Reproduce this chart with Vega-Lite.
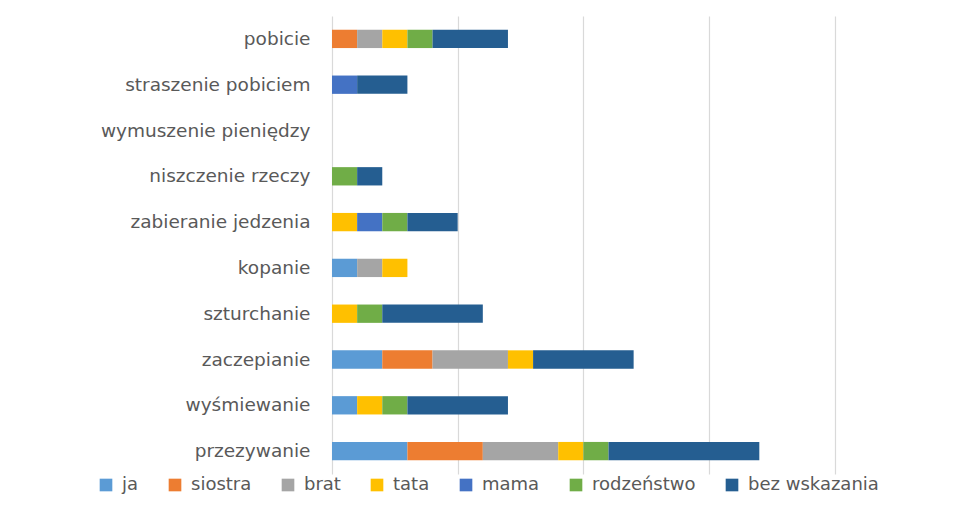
{
  "$schema": "https://vega.github.io/schema/vega-lite/v6.json",
  "autosize": "none",
  "width": 646,
  "height": 458,
  "padding": {"left": 332, "top": 16, "right": 0, "bottom": 34},
  "background": "white",
  "config": {
    "view": {"stroke": null},
    "font": "DejaVu Sans"
  },
  "data": {
    "values": [
      {"cat": "pobicie", "who": "siostra", "o": 2, "v": 1},
      {"cat": "pobicie", "who": "brat", "o": 3, "v": 1},
      {"cat": "pobicie", "who": "tata", "o": 4, "v": 1},
      {"cat": "pobicie", "who": "rodzeństwo", "o": 6, "v": 1},
      {"cat": "pobicie", "who": "bez wskazania", "o": 7, "v": 3},
      {"cat": "straszenie pobiciem", "who": "mama", "o": 5, "v": 1},
      {"cat": "straszenie pobiciem", "who": "bez wskazania", "o": 7, "v": 2},
      {"cat": "wymuszenie pieniędzy", "who": "bez wskazania", "o": 7, "v": 0},
      {"cat": "niszczenie rzeczy", "who": "rodzeństwo", "o": 6, "v": 1},
      {"cat": "niszczenie rzeczy", "who": "bez wskazania", "o": 7, "v": 1},
      {"cat": "zabieranie jedzenia", "who": "tata", "o": 4, "v": 1},
      {"cat": "zabieranie jedzenia", "who": "mama", "o": 5, "v": 1},
      {"cat": "zabieranie jedzenia", "who": "rodzeństwo", "o": 6, "v": 1},
      {"cat": "zabieranie jedzenia", "who": "bez wskazania", "o": 7, "v": 2},
      {"cat": "kopanie", "who": "ja", "o": 1, "v": 1},
      {"cat": "kopanie", "who": "brat", "o": 3, "v": 1},
      {"cat": "kopanie", "who": "tata", "o": 4, "v": 1},
      {"cat": "szturchanie", "who": "tata", "o": 4, "v": 1},
      {"cat": "szturchanie", "who": "rodzeństwo", "o": 6, "v": 1},
      {"cat": "szturchanie", "who": "bez wskazania", "o": 7, "v": 4},
      {"cat": "zaczepianie", "who": "ja", "o": 1, "v": 2},
      {"cat": "zaczepianie", "who": "siostra", "o": 2, "v": 2},
      {"cat": "zaczepianie", "who": "brat", "o": 3, "v": 3},
      {"cat": "zaczepianie", "who": "tata", "o": 4, "v": 1},
      {"cat": "zaczepianie", "who": "bez wskazania", "o": 7, "v": 4},
      {"cat": "wyśmiewanie", "who": "ja", "o": 1, "v": 1},
      {"cat": "wyśmiewanie", "who": "tata", "o": 4, "v": 1},
      {"cat": "wyśmiewanie", "who": "rodzeństwo", "o": 6, "v": 1},
      {"cat": "wyśmiewanie", "who": "bez wskazania", "o": 7, "v": 4},
      {"cat": "przezywanie", "who": "ja", "o": 1, "v": 3},
      {"cat": "przezywanie", "who": "siostra", "o": 2, "v": 3},
      {"cat": "przezywanie", "who": "brat", "o": 3, "v": 3},
      {"cat": "przezywanie", "who": "tata", "o": 4, "v": 1},
      {"cat": "przezywanie", "who": "rodzeństwo", "o": 6, "v": 1},
      {"cat": "przezywanie", "who": "bez wskazania", "o": 7, "v": 6}
    ]
  },
  "mark": {"type": "bar"},
  "encoding": {
    "y": {
      "field": "cat",
      "type": "nominal",
      "sort": ["pobicie", "straszenie pobiciem", "wymuszenie pieniędzy", "niszczenie rzeczy", "zabieranie jedzenia", "kopanie", "szturchanie", "zaczepianie", "wyśmiewanie", "przezywanie"],
      "scale": {"paddingInner": 0.6, "paddingOuter": 0.3},
      "axis": {
        "title": null,
        "domain": false,
        "ticks": false,
        "labelPadding": 22,
        "labelFontSize": 18.5,
        "labelLimit": 400,
        "labelColor": "#595959",
        "labelFont": "DejaVu Sans"
      }
    },
    "x": {
      "field": "v",
      "type": "quantitative",
      "stack": "zero",
      "scale": {"domain": [0, 25.7], "nice": false, "zero": true},
      "axis": {
        "title": null,
        "labels": false,
        "ticks": false,
        "domain": false,
        "values": [0, 5, 10, 15, 20],
        "grid": true,
        "gridColor": "#D9D9D9",
        "gridWidth": 1.2
      }
    },
    "order": {"field": "o", "type": "quantitative"},
    "color": {
      "field": "who",
      "type": "nominal",
      "scale": {
        "domain": ["ja", "siostra", "brat", "tata", "mama", "rodzeństwo", "bez wskazania"],
        "range": ["#5B9BD5", "#ED7D31", "#A5A5A5", "#FFC000", "#4472C4", "#70AD47", "#255E91"]
      },
      "legend": {
        "title": null,
        "orient": "none",
        "direction": "horizontal",
        "legendX": -235,
        "legendY": 460,
        "symbolType": "square",
        "symbolSize": 160,
        "symbolStrokeWidth": 0,
        "labelFontSize": 18,
        "labelLimit": 400,
        "labelColor": "#595959",
        "labelFont": "DejaVu Sans",
        "labelOffset": 7,
        "columnPadding": 27
      }
    }
  }
}
